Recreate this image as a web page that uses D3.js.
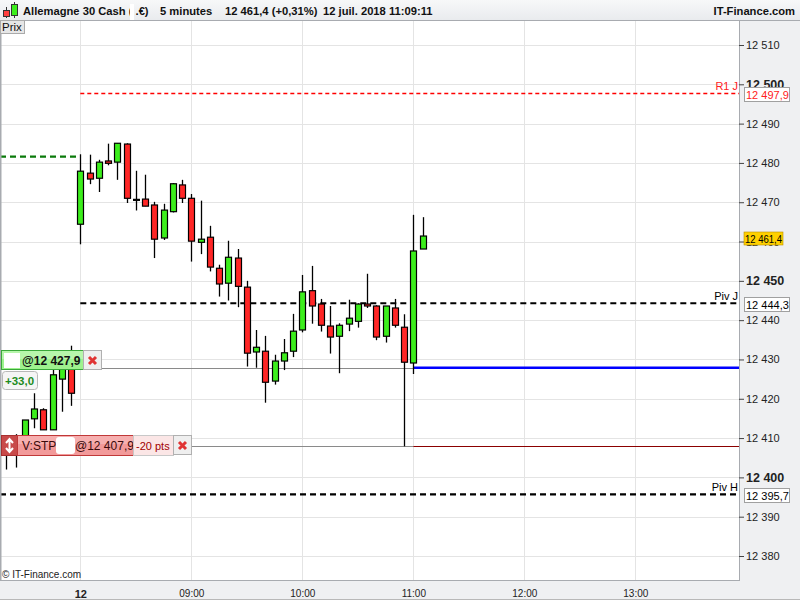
<!DOCTYPE html>
<html>
<head>
<meta charset="utf-8">
<script src="https://cdn.jsdelivr.net/npm/d3@7"></script>
<style>
  body { margin: 0; background: #fff; }
  svg { display: block; font-family: "Liberation Sans", Arial, sans-serif; }
</style>
</head>
<body>
<svg id="chart" width="800" height="600"></svg>
<script>
// 5 minute candles, last part of 11 July then 12 July from 08:00
var times = ["21:20", "21:25", "21:30", "21:35", "21:40", "21:45", "21:50", "21:55",
  "08:00", "08:05", "08:10", "08:15", "08:20", "08:25", "08:30", "08:35", "08:40", "08:45", "08:50", "08:55",
  "09:00", "09:05", "09:10", "09:15", "09:20", "09:25", "09:30", "09:35", "09:40", "09:45", "09:50", "09:55",
  "10:00", "10:05", "10:10", "10:15", "10:20", "10:25", "10:30", "10:35", "10:40", "10:45", "10:50", "10:55",
  "11:00", "11:05"];
var opens = [12406, 12407, 12410.5, 12414.9, 12417.2, 12412.1, 12425.0, 12428.6,
  12464.4, 12477.4, 12476.1, 12480.5, 12480.2, 12484.8, 12470.6, 12470.8, 12469.3, 12460.9, 12467.6, 12474.4,
  12471.0, 12459.8, 12461.1, 12453.2, 12449.4, 12455.8, 12448.4, 12431.9, 12432.1, 12424.5, 12429.6, 12432.1,
  12437.5, 12447.5, 12444.1, 12438.5, 12435.9, 12439.0, 12439.7, 12444.1, 12443.6, 12435.9, 12443.1, 12438.2,
  12429.1, 12458.1];
var highs = [12410, 12411, 12414.6, 12421.4, 12417.6, 12428.0, 12429.0, 12433.5,
  12482.2, 12482.1, 12480.8, 12484.9, 12485.0, 12485.0, 12478.0, 12477.0, 12470.1, 12469.6, 12474.9, 12475.7,
  12472.1, 12470.4, 12464.0, 12454.1, 12460.2, 12458.1, 12450.0, 12437.5, 12436.0, 12431.2, 12435.2, 12441.6,
  12451.5, 12453.8, 12445.4, 12443.6, 12439.2, 12445.2, 12444.3, 12451.8, 12443.8, 12443.6, 12445.4, 12441.5,
  12466.8, 12466.2];
var lows = [12402, 12402.5, 12409, 12412.5, 12412.1, 12412.1, 12416.7, 12418.2,
  12459.3, 12474.6, 12472.6, 12479.4, 12475.7, 12469.8, 12467.9, 12469.0, 12455.8, 12460.4, 12467.4, 12469.8,
  12454.9, 12456.8, 12452.4, 12446.0, 12445.0, 12443.3, 12428.2, 12427.9, 12419.0, 12423.6, 12427.3, 12430.6,
  12436.9, 12439.1, 12437.1, 12431.5, 12426.5, 12437.2, 12438.1, 12443.1, 12434.9, 12434.3, 12438.1, 12407.9,
  12426.3, 12458.1];
var closes = [12409, 12410, 12414.6, 12417.4, 12412.1, 12426.1, 12428.0, 12421.4,
  12477.9, 12475.9, 12480.2, 12479.9, 12485.0, 12471.0, 12470.6, 12469.0, 12460.6, 12468.0, 12474.7, 12471.0,
  12460.1, 12460.6, 12453.5, 12449.2, 12456.0, 12448.6, 12431.6, 12433.1, 12424.2, 12429.6, 12431.7, 12437.2,
  12447.2, 12443.6, 12438.7, 12435.7, 12438.7, 12440.5, 12444.1, 12443.6, 12435.7, 12443.6, 12438.7, 12429.3,
  12457.6, 12461.4];

var yTicks = [12380, 12390, 12400, 12410, 12420, 12430, 12440, 12450, 12460, 12470, 12480, 12490, 12500, 12510];
var hourTickIndex = [8, 20, 32, 44, 56, 68];
var hourTickLabels = ["12", "09:00", "10:00", "11:00", "12:00", "13:00"];

var levelValues = [12497.9, 12444.3, 12395.7];
var levelNames = ["R1 J", "Piv J", "Piv H"];
var levelFromSession = [true, true, false];
var prevClose = 12481.6;
var orderPrice = 12427.9, orderGain = "+33,0";
var stopPrice = 12407.9, stopPts = "-20 pts";
var lastPrice = 12461.4;
var sessionStart = 8, entryIndex = 44;

var fr = d3.formatLocale({ decimal: ",", thousands: " ", grouping: [3], currency: ["", " €"] });
var fmtInt = fr.format(",d"), fmt1 = fr.format(",.1f");

var svg = d3.select("#chart");
var plotRight = 739, plotTop = 20, plotBottom = 580;

var x = d3.scaleLinear().domain([-0.681, 79.21]).range([0, plotRight]);
var y = d3.scaleLinear().domain([12380, 12510]).range([556, 45]);
function px(v) { return Math.round(v) + 0.5; }

// backgrounds
svg.append("rect").attr("width", 800).attr("height", 600).attr("fill", "#eff0f2");
svg.append("rect").attr("x", 0).attr("y", plotTop).attr("width", plotRight).attr("height", plotBottom - plotTop).attr("fill", "#fff");

// grid
svg.append("g").selectAll("line").data(yTicks).enter().append("line")
  .attr("x1", 1).attr("x2", plotRight)
  .attr("y1", function(d) { return px(y(d)); }).attr("y2", function(d) { return px(y(d)); })
  .attr("stroke", "#e4e4e4");
svg.append("g").selectAll("line").data(hourTickIndex).enter().append("line")
  .attr("x1", function(d) { return px(x(d)); }).attr("x2", function(d) { return px(x(d)); })
  .attr("y1", plotTop).attr("y2", plotBottom)
  .attr("stroke", "#e4e4e4");

// order / stop lines
svg.append("line").attr("x1", 0).attr("x2", x(entryIndex)).attr("y1", px(y(orderPrice))).attr("y2", px(y(orderPrice)))
  .attr("stroke", "#8a8a8a");
svg.append("line").attr("x1", 0).attr("x2", x(entryIndex)).attr("y1", px(y(stopPrice))).attr("y2", px(y(stopPrice)))
  .attr("stroke", "#8a8a8a");
svg.append("line").attr("x1", x(entryIndex)).attr("x2", plotRight).attr("y1", y(orderPrice)).attr("y2", y(orderPrice))
  .attr("stroke", "#0000ff").attr("stroke-width", 2.5);
svg.append("line").attr("x1", x(entryIndex)).attr("x2", plotRight).attr("y1", px(y(stopPrice))).attr("y2", px(y(stopPrice)))
  .attr("stroke", "#8b0000").attr("stroke-width", 1.2);

// previous close
svg.append("line").attr("x1", 0).attr("x2", x(sessionStart)).attr("y1", y(prevClose)).attr("y2", y(prevClose))
  .attr("stroke", "#0a7a0a").attr("stroke-width", 2.2).attr("stroke-dasharray", "6,4");

// pivot levels
levelValues.forEach(function(v, i) {
  var red = levelNames[i].indexOf("R") === 0;
  svg.append("line")
    .attr("x1", levelFromSession[i] ? x(sessionStart) : 0).attr("x2", plotRight)
    .attr("y1", red ? px(y(v)) : y(v)).attr("y2", red ? px(y(v)) : y(v))
    .attr("stroke", red ? "#ff0000" : "#000")
    .attr("stroke-width", red ? 1.3 : 2.2)
    .attr("stroke-dasharray", red ? "4,3" : "6,4");
  svg.append("text").attr("x", 738).attr("y", y(v) - 3).attr("text-anchor", "end")
    .attr("font-size", 11).attr("fill", red ? "#ff2020" : "#000").text(levelNames[i]);
});

// candles
var idx = d3.range(times.length);
var cg = svg.append("g");
cg.selectAll("line.wick").data(idx).enter().append("line").attr("class", "wick")
  .attr("x1", function(i) { return px(x(i)); }).attr("x2", function(i) { return px(x(i)); })
  .attr("y1", function(i) { return y(highs[i]); }).attr("y2", function(i) { return y(lows[i]); })
  .attr("stroke", "#000").attr("stroke-width", 1.3);
cg.selectAll("rect.body").data(idx.filter(function(i) { return opens[i] !== closes[i]; })).enter().append("rect")
  .attr("class", "body")
  .attr("x", function(i) { return Math.round(x(i)) - 2.5; })
  .attr("width", 6)
  .attr("y", function(i) { return y(Math.max(opens[i], closes[i])); })
  .attr("height", function(i) { return Math.max(1, Math.abs(y(opens[i]) - y(closes[i]))); })
  .attr("fill", function(i) { return closes[i] > opens[i] ? "#3cee1c" : "#ff2626"; })
  .attr("stroke", "#000").attr("stroke-width", 1.2);
cg.selectAll("line.doji").data(idx.filter(function(i) { return opens[i] === closes[i]; })).enter().append("line")
  .attr("class", "doji")
  .attr("x1", function(i) { return Math.round(x(i)) - 3; }).attr("x2", function(i) { return Math.round(x(i)) + 4; })
  .attr("y1", function(i) { return y(opens[i]); }).attr("y2", function(i) { return y(opens[i]); })
  .attr("stroke", "#000").attr("stroke-width", 2.2);

// plot frame
svg.append("line").attr("x1", 0.5).attr("x2", 0.5).attr("y1", plotTop).attr("y2", plotBottom).attr("stroke", "#a8abb0").attr("stroke-width", 2);
svg.append("line").attr("x1", plotRight + 0.5).attr("x2", plotRight + 0.5).attr("y1", plotTop).attr("y2", plotBottom).attr("stroke", "#a8abb0");
svg.append("line").attr("x1", 0).attr("x2", plotRight + 1).attr("y1", plotBottom + 0.5).attr("y2", plotBottom + 0.5).attr("stroke", "#a8abb0");
svg.append("line").attr("x1", 0).attr("x2", 800).attr("y1", 599.5).attr("y2", 599.5).attr("stroke", "#b8b8b8");

// y axis
var ga = svg.append("g").attr("transform", "translate(" + plotRight + ",0)")
  .call(d3.axisRight(y).tickValues(yTicks).tickSize(5).tickPadding(2).tickFormat(fmtInt));
ga.select(".domain").remove();
ga.attr("font-family", null);
ga.selectAll(".tick line").attr("stroke", "#444");
ga.selectAll(".tick text").attr("fill", "#222")
  .attr("font-size", function(d) { return d % 50 === 0 ? 12.5 : 11; })
  .attr("font-weight", function(d) { return d % 50 === 0 ? "bold" : null; });

// x axis
var gx = svg.append("g").attr("transform", "translate(0," + plotBottom + ")")
  .call(d3.axisBottom(x).tickValues(hourTickIndex).tickSize(0).tickPadding(10)
    .tickFormat(function(d, i) { return hourTickLabels[i]; }));
gx.select(".domain").remove();
gx.attr("font-family", null);
gx.selectAll(".tick text").attr("fill", "#222")
  .attr("font-size", function(d, i) { return i === 0 ? 11 : 10; })
  .attr("font-weight", function(d, i) { return i === 0 ? "bold" : null; });

// price boxes on the axis
function priceBox(v, color, fill, w) {
  var g = svg.append("g");
  g.append("rect").attr("x", 744.5).attr("y", Math.round(y(v)) - 5.5).attr("width", w).attr("height", 14)
    .attr("fill", fill).attr("stroke", "#a0a0a0");
  g.append("text").attr("x", 746).attr("y", Math.round(y(v)) + 6).attr("font-size", 11).attr("fill", color).text(fmt1(v));
}
priceBox(levelValues[0], "#ff2020", "#fff", 45);
priceBox(levelValues[1], "#000", "#fff", 45);
priceBox(levelValues[2], "#000", "#fff", 45);
(function() {
  var g = svg.append("g");
  g.append("rect").attr("x", 744).attr("y", Math.round(y(lastPrice)) - 4).attr("width", 39).attr("height", 13)
    .attr("fill", "#ffd000").attr("stroke", "#b89000").attr("stroke-width", 0.6);
  g.append("text").attr("x", 745).attr("y", Math.round(y(lastPrice)) + 6.5).attr("font-size", 11)
    .attr("textLength", 37).attr("lengthAdjust", "spacingAndGlyphs").attr("fill", "#000").text(fmt1(lastPrice));
})();

// header
var defs = svg.append("defs");
var hg = defs.append("linearGradient").attr("id", "hdr").attr("x1", 0).attr("x2", 0).attr("y1", 0).attr("y2", 1);
hg.append("stop").attr("offset", 0).attr("stop-color", "#f7f8f9");
hg.append("stop").attr("offset", 1).attr("stop-color", "#e9ebee");
svg.append("rect").attr("width", 800).attr("height", 20).attr("fill", "url(#hdr)");
svg.append("line").attr("x1", 0).attr("x2", 800).attr("y1", 20.5).attr("y2", 20.5).attr("stroke", "#a8abb0");
var icon = svg.append("g");
icon.append("line").attr("x1", 6.5).attr("x2", 6.5).attr("y1", 7).attr("y2", 18).attr("stroke", "#333");
icon.append("rect").attr("x", 3.5).attr("y", 10.5).attr("width", 6).attr("height", 6).attr("fill", "#ff4040").attr("stroke", "#333");
icon.append("line").attr("x1", 14.5).attr("x2", 14.5).attr("y1", 2).attr("y2", 18).attr("stroke", "#333");
icon.append("rect").attr("x", 11.5).attr("y", 4.5).attr("width", 6).attr("height", 11).attr("fill", "#3cee1c").attr("stroke", "#333");
var headerTexts = ["Allemagne 30 Cash (  .€)", "5 minutes", "12 461,4 (+0,31%)", "12 juil. 2018 11:09:11"];
var headerX = [23, 160, 225, 323];
headerTexts.forEach(function(t, i) {
  svg.append("text").attr("x", headerX[i]).attr("y", 15).attr("font-size", 11.2).attr("font-weight", "bold")
    .attr("fill", "#111").text(t);
});
svg.append("rect").attr("x", 130).attr("y", 4).attr("width", 4).attr("height", 16).attr("fill", "#fff");
svg.append("text").attr("x", 795).attr("y", 15).attr("text-anchor", "end").attr("font-size", 11.2)
  .attr("font-weight", "bold").attr("fill", "#111").text("IT-Finance.com");
svg.append("rect").attr("x", 0.5).attr("y", 20.5).attr("width", 24).attr("height", 13).attr("fill", "#e6e6e6").attr("stroke", "#aaa");
svg.append("text").attr("x", 2).attr("y", 31).attr("font-size", 11.5).attr("fill", "#111").text("Prix");

// footer
svg.append("text").attr("x", 2).attr("y", 578).attr("font-size", 10).attr("fill", "#222").text("© IT-Finance.com");

// order widgets
function closeBox(xx, yy) {
  var g = svg.append("g");
  g.append("rect").attr("x", xx + 0.5).attr("y", yy + 0.5).attr("width", 18).attr("height", 19)
    .attr("fill", "#efefef").attr("stroke", "#b0b0b0");
  g.append("path").attr("d", "M" + (xx + 6) + "," + (yy + 7) + "L" + (xx + 13) + "," + (yy + 14) +
    "M" + (xx + 13) + "," + (yy + 7) + "L" + (xx + 6) + "," + (yy + 14))
    .attr("stroke", "#e03434").attr("stroke-width", 3);
}

var oy = Math.round(y(orderPrice)) - 18;
svg.append("rect").attr("x", 1.5).attr("y", oy + 0.5).attr("width", 82).attr("height", 19)
  .attr("fill", "#9ef28e").attr("stroke", "#3aa83a");
svg.append("rect").attr("x", 2).attr("y", oy + 1).attr("width", 81).attr("height", 8)
  .attr("fill", "#c2f8b8").attr("opacity", 0.7);
svg.append("rect").attr("x", 4).attr("y", oy + 3).attr("width", 16).attr("height", 15).attr("fill", "#fff");
svg.append("text").attr("x", 22).attr("y", oy + 15).attr("font-size", 12).attr("font-weight", "bold")
  .attr("fill", "#111").text("@" + fmt1(orderPrice));
closeBox(83, oy);
svg.append("rect").attr("x", 2.5).attr("y", oy + 21.5).attr("width", 35).attr("height", 18).attr("rx", 3)
  .attr("fill", "#f5f5f5").attr("stroke", "#b8b8b8");
svg.append("text").attr("x", 5).attr("y", oy + 34.5).attr("font-size", 11.5).attr("font-weight", "bold")
  .attr("fill", "#1e8c1e").text(orderGain);

var sy = Math.round(y(stopPrice)) - 11;
svg.append("rect").attr("x", 1.5).attr("y", sy + 0.5).attr("width", 16).attr("height", 20)
  .attr("fill", "#c84a4a").attr("stroke", "#a83030");
svg.append("path").attr("d", "M9.5," + (sy + 5) + "L9.5," + (sy + 16) +
  "M6," + (sy + 8) + "L9.5," + (sy + 4) + "L13," + (sy + 8) +
  "M6," + (sy + 13) + "L9.5," + (sy + 17) + "L13," + (sy + 13))
  .attr("stroke", "#fff").attr("stroke-width", 2).attr("fill", "none");
svg.append("rect").attr("x", 17.5).attr("y", sy + 0.5).attr("width", 116).attr("height", 20)
  .attr("fill", "#f29a9a").attr("stroke", "#c03838");
svg.append("rect").attr("x", 18).attr("y", sy + 1).attr("width", 115).attr("height", 8)
  .attr("fill", "#f8b8b8").attr("opacity", 0.7);
svg.append("text").attr("x", 22).attr("y", sy + 15).attr("font-size", 12).attr("fill", "#3a0a0a").text("V:STP");
svg.append("rect").attr("x", 56).attr("y", sy + 2).attr("width", 19).attr("height", 17).attr("rx", 3).attr("fill", "#fff");
svg.append("text").attr("x", 75).attr("y", sy + 15).attr("font-size", 12).attr("fill", "#3a0a0a").text("@" + fmt1(stopPrice));
svg.append("rect").attr("x", 133.5).attr("y", sy + 0.5).attr("width", 40).attr("height", 20)
  .attr("fill", "#fbe6e6").attr("stroke", "#c8c8c8");
svg.append("text").attr("x", 136).attr("y", sy + 14.5).attr("font-size", 11).attr("fill", "#a00000").text(stopPts);
closeBox(173, sy);
</script>
</body>
</html>
